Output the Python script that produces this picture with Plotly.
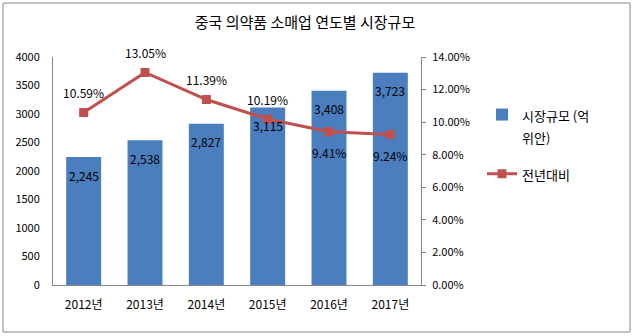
import plotly.graph_objects as go

categories = ["2012년", "2013년", "2014년", "2015년", "2016년", "2017년"]
market_size = [2245, 2538, 2827, 3115, 3408, 3723]
yoy_pct = [10.59, 13.05, 11.39, 10.19, 9.41, 9.24]
yoy_label_above = [True, True, True, True, False, False]
bar_name_lines = ["시장규모 (억", "위안)"]
line_name = "전년대비"

FONT = "Noto Sans CJK KR, Liberation Sans, sans-serif"

W, H = 634, 336
L, R, T, B = 53, 421, 57, 285


def small(s):
    return f"<span style='font-size:13px'>{s}</span>"


fig = go.Figure()
fig.add_trace(go.Bar(
    x=categories, y=market_size, name="<br>".join(small(s) for s in bar_name_lines),
    marker=dict(color="#4A7EBF", line=dict(width=0)),
    width=0.57, yaxis="y", legendgroup="a",
))
fig.add_trace(go.Scatter(
    x=categories, y=[v / 100 for v in yoy_pct], name=small(line_name),
    mode="lines+markers", yaxis="y2", legendgroup="b",
    line=dict(color="#C0504D", width=3),
    marker=dict(symbol="square", size=9, color="#C0504D"),
    cliponaxis=False,
))

annotations = []
for c, v in zip(categories, market_size):
    annotations.append(dict(x=c, y=v, xref="x", yref="y", text=f"{v:,}",
                            showarrow=False, yshift=-18,
                            font=dict(size=12, color="black", family=FONT)))
for c, v, above in zip(categories, yoy_pct, yoy_label_above):
    annotations.append(dict(x=c, y=v / 100, xref="x", yref="y2", text=f"{v:.2f}%",
                            showarrow=False, yshift=20 if above else -21,
                            font=dict(size=12, color="black", family=FONT)))


def px_x(p):
    return (p - L) / (R - L)


def px_y(p):
    return (B - p) / (B - T)


fig.update_layout(
    width=W, height=H,
    margin=dict(l=L, r=W - R, t=T, b=H - B),
    paper_bgcolor="white", plot_bgcolor="white",
    font=dict(family=FONT, size=11, color="black"),
    title=dict(text="중국 의약품 소매업 연도별 시장규모", x=305 / W, xanchor="center",
               y=1 - 23 / H, yanchor="middle", font=dict(size=15, family=FONT)),
    showlegend=True,
    legend=dict(x=px_x(482), y=px_y(97), xanchor="left", yanchor="top",
                font=dict(size=17, family=FONT), tracegroupgap=12,
                valign="top", bgcolor="rgba(0,0,0,0)"),
    bargap=0.43,
    xaxis=dict(showline=True, linecolor="#868686", linewidth=1, ticks="",
               tickfont=dict(size=12), showgrid=False, ticklabelstandoff=9),
    yaxis=dict(range=[0, 4000], dtick=500, showline=True, linecolor="#868686",
               linewidth=1, showgrid=False, zeroline=False, ticks="",
               tickfont=dict(size=11), ticklabelstandoff=10),
    yaxis2=dict(range=[0, 0.14], dtick=0.02, tickformat=".2%", overlaying="y",
                side="right", showline=True, linecolor="#868686", linewidth=1,
                showgrid=False, zeroline=False, ticks="outside", ticklen=4,
                tickcolor="#868686", tickfont=dict(size=11), ticklabelstandoff=4),
    annotations=annotations,
    shapes=[dict(type="rect", xref="paper", yref="paper",
                 x0=px_x(3), x1=px_x(630), y0=px_y(332), y1=px_y(3),
                 line=dict(color="#868686", width=1), fillcolor="rgba(0,0,0,0)",
                 layer="below")],
)

fig.write_html("out.html")
